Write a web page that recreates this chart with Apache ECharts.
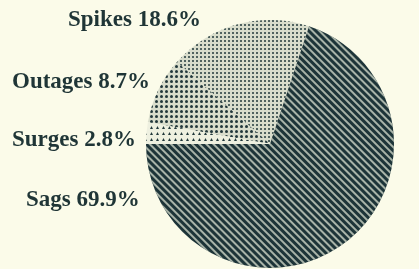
<!DOCTYPE html>
<html>
<head>
<meta charset="utf-8">
<script src="https://cdn.jsdelivr.net/npm/echarts@6/dist/echarts.min.js"></script>
<style>
  html, body { margin: 0; padding: 0; background: #fbfbe9; }
  #chart { width: 419px; height: 269px; }
</style>
</head>
<body>
<div id="chart"></div>
<script>
    "use strict";

    // Data
    var categories = ['Spikes', 'Outages', 'Surges', 'Sags'];
    var shares = [18.6, 8.7, 2.8, 69.9];

    // ------------------------------
    // Pie chart
    // Power disturbances
    // ------------------------------
    var chart = echarts.init(document.getElementById('chart'));

    // pattern fill per slice
    var decals = [
        { symbol: 'circle', symbolSize: 1, color: '#22383b', dashArrayX: [2, 1.5], dashArrayY: [2, 1.5] },
        { symbol: 'circle', symbolSize: 1, color: '#22383b', dashArrayX: [2.5, 2], dashArrayY: [2.5, 2] },
        { symbol: 'triangle', symbolSize: 1, color: '#22383b', dashArrayX: [3, 2.5], dashArrayY: [3, 2.5] },
        { symbol: 'rect', color: 'rgba(215,222,205,0.75)', dashArrayX: [1, 0], dashArrayY: [1.5, 3], rotation: Math.PI / 4 }
    ];
    var bases = ['#d9ddcc', '#d9ddcc', '#eef0e0', '#1d3438'];

    // where the left column of labels sits
    var labelSpots = [[68, 20], [12, 82], [12, 140], [26, 200]];

    var first = shares[0] + shares[1] + shares[2];

    var option = {
        backgroundColor: '#fbfbe9',
        series: [{
            name: 'Disturbances',
            type: 'pie',
            center: [270, 144],
            radius: 124,
            clockwise: false,
            startAngle: 180 - first * 3.6,
            label: {
                show: true,
                overflow: 'none',
                width: 200,
                formatter: function (p) {
                    return p.name + ' ' + p.value.toFixed(1) + '%';
                },
                fontFamily: 'Liberation Serif',
                fontWeight: 'bold',
                fontSize: 23,
                color: '#1f3536'
            },
            labelLine: { show: false },
            labelLayout: function (params) {
                var s = labelSpots[params.dataIndex];
                return { x: s[0], y: s[1], align: 'left', verticalAlign: 'middle' };
            },
            emphasis: { disabled: true },
            data: categories.map(function (c, i) {
                return {
                    name: c,
                    value: shares[i],
                    itemStyle: { color: bases[i], decal: decals[i], borderWidth: 0 }
                };
            })
        }]
    };

    chart.setOption(option);
</script>
</body>
</html>
